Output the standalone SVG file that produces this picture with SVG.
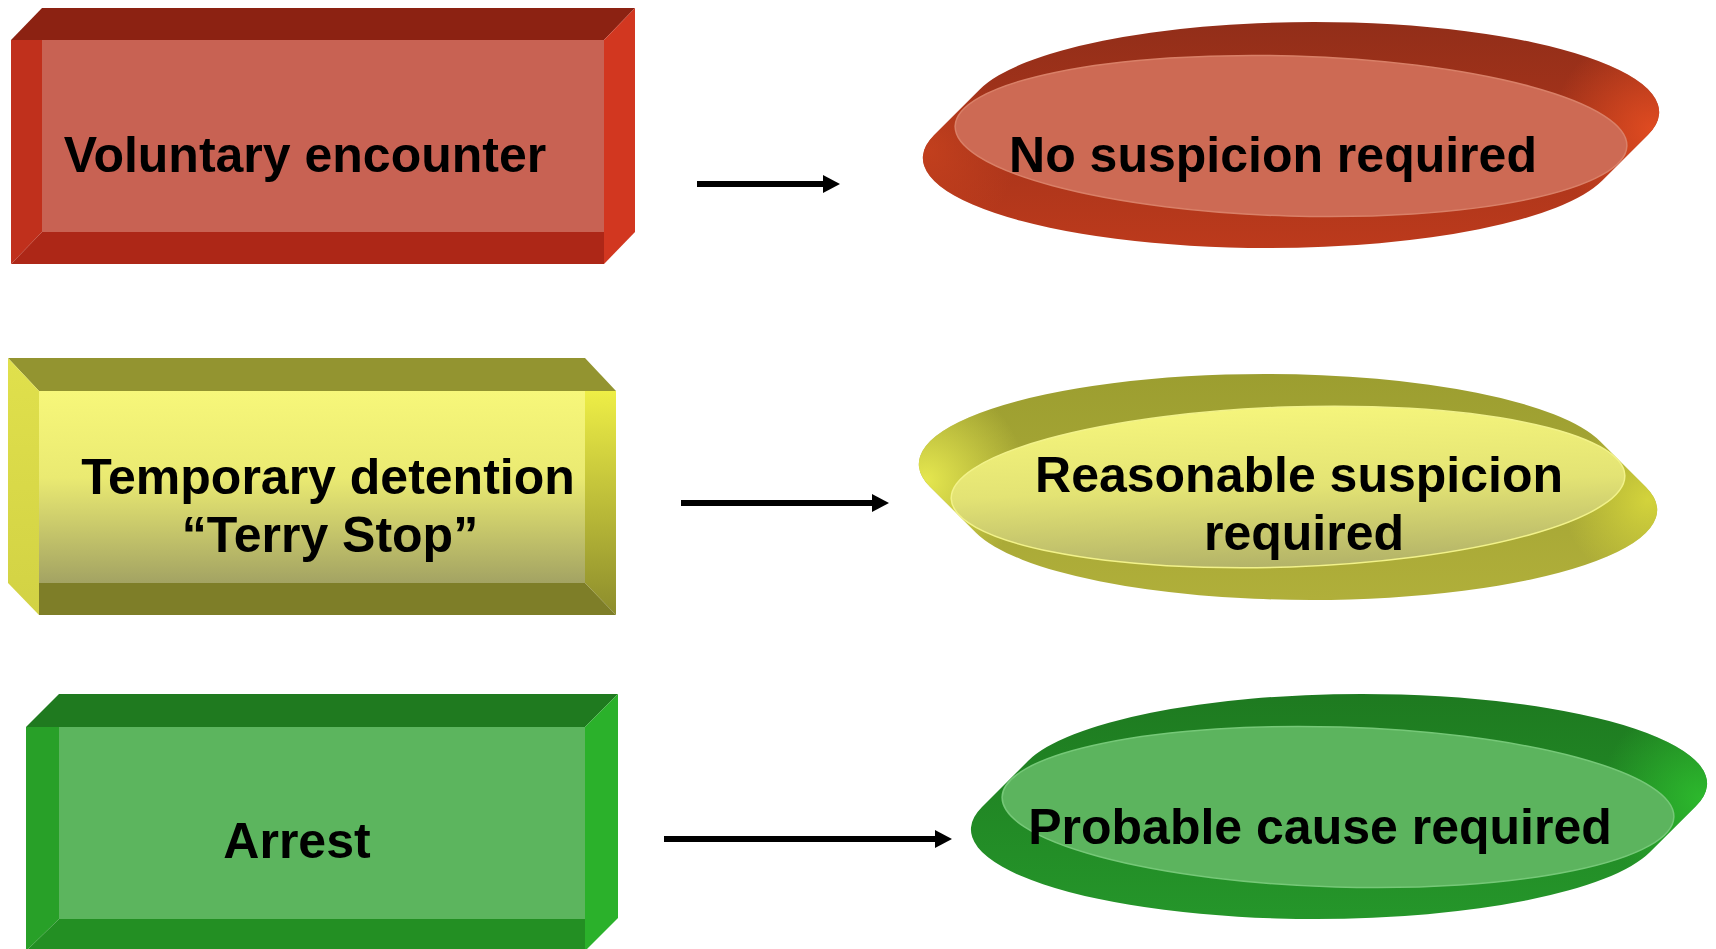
<svg xmlns="http://www.w3.org/2000/svg" width="1716" height="949" viewBox="0 0 1716 949">
  <style>
    .label { font-family: "Liberation Sans", Arial, sans-serif; font-weight: bold; font-size: 50px; fill: #000; text-anchor: middle; }
    .arrow { stroke: #000; stroke-width: 6; fill: none; marker-end: url(#head); }
  </style>
  <defs>
    <marker id="head" markerUnits="userSpaceOnUse" markerWidth="18" markerHeight="18" refX="5" refY="9" orient="auto">
      <path d="M0,0 L17,9 L0,18 Z" fill="#000"/>
    </marker>

    <!-- outlines of the extruded discs (face ellipse swept along the depth) -->
    <path id="rimRed" d="M934,135.3 L980,89.3 A345,90 0 0 1 1314,22 A345,90 0 0 1 1648,134.7 L1602,180.7 A345,90 0 0 1 1268,248 A345,90 0 0 1 934,135.3 Z"/>
    <path id="rimYel" d="M930,486.7 A346,90 0 0 1 1265,374 A346,90 0 0 1 1600,441.3 L1646,487.3 A346,90 0 0 1 1311,600 A346,90 0 0 1 976,532.7 Z"/>
    <path id="rimGrn" d="M982,807 L1028,761 A345,89.5 0 0 1 1362,694 A345,89.5 0 0 1 1696,806 L1650,852 A345,89.5 0 0 1 1316,919 A345,89.5 0 0 1 982,807 Z"/>

    <!-- box shading -->
    <linearGradient id="yelInner" x1="0" y1="0" x2="0" y2="1">
      <stop offset="0" stop-color="#F7F77A"/>
      <stop offset="0.45" stop-color="#EAEA72"/>
      <stop offset="1" stop-color="#A3A363"/>
    </linearGradient>
    <linearGradient id="yelRight" x1="0" y1="0" x2="0" y2="1">
      <stop offset="0" stop-color="#EEEE46"/>
      <stop offset="1" stop-color="#8C8C2C"/>
    </linearGradient>
    <linearGradient id="yelLeft" x1="0" y1="0" x2="0" y2="1">
      <stop offset="0" stop-color="#E0E04C"/>
      <stop offset="1" stop-color="#D2D244"/>
    </linearGradient>

    <!-- disc rims -->
    <linearGradient id="redRim" x1="0" y1="0" x2="0" y2="1">
      <stop offset="0" stop-color="#922E19"/>
      <stop offset="1" stop-color="#BC3A1C"/>
    </linearGradient>
    <radialGradient id="redGlowR" gradientUnits="userSpaceOnUse" cx="1652" cy="130" r="100">
      <stop offset="0" stop-color="#E24C21" stop-opacity="0.95"/>
      <stop offset="1" stop-color="#E24C21" stop-opacity="0"/>
    </radialGradient>
    <radialGradient id="redGlowL" gradientUnits="userSpaceOnUse" cx="928" cy="150" r="90">
      <stop offset="0" stop-color="#C8421E" stop-opacity="0.8"/>
      <stop offset="1" stop-color="#C8421E" stop-opacity="0"/>
    </radialGradient>
    <linearGradient id="yelRim" x1="0" y1="0" x2="0" y2="1">
      <stop offset="0" stop-color="#9C9E30"/>
      <stop offset="1" stop-color="#B0AF3A"/>
    </linearGradient>
    <radialGradient id="yelGlowL" gradientUnits="userSpaceOnUse" cx="926" cy="480" r="100">
      <stop offset="0" stop-color="#E8EA50" stop-opacity="0.95"/>
      <stop offset="1" stop-color="#E8EA50" stop-opacity="0"/>
    </radialGradient>
    <radialGradient id="yelGlowR" gradientUnits="userSpaceOnUse" cx="1648" cy="500" r="85">
      <stop offset="0" stop-color="#D8D83C" stop-opacity="0.9"/>
      <stop offset="1" stop-color="#D8D83C" stop-opacity="0"/>
    </radialGradient>
    <linearGradient id="yelFace" x1="0" y1="0" x2="0" y2="1">
      <stop offset="0" stop-color="#F5F57C"/>
      <stop offset="0.5" stop-color="#E3E374"/>
      <stop offset="1" stop-color="#B3B368"/>
    </linearGradient>
    <linearGradient id="grnRim" x1="0" y1="0" x2="0" y2="1">
      <stop offset="0" stop-color="#1E7A20"/>
      <stop offset="1" stop-color="#25962A"/>
    </linearGradient>
    <radialGradient id="grnGlow" gradientUnits="userSpaceOnUse" cx="1700" cy="798" r="100">
      <stop offset="0" stop-color="#2DBA2D" stop-opacity="0.95"/>
      <stop offset="1" stop-color="#2DBA2D" stop-opacity="0"/>
    </radialGradient>
  </defs>

  <rect width="1716" height="949" fill="#FFFFFF"/>

  <!-- stage boxes -->
  <g id="box-voluntary">
    <polygon points="11,40 42,8 635,8 604,40" fill="#8C2212"/>
    <polygon points="604,40 635,8 635,232 604,264" fill="#D23720"/>
    <polygon points="11,40 42,40 42,232 11,264" fill="#C0301C"/>
    <polygon points="11,264 42,232 604,232 604,264" fill="#AD2717"/>
    <rect x="42" y="40" width="562" height="192" fill="#C86253"/>
    <text class="label" x="305" y="172">Voluntary encounter</text>
  </g>

  <g id="box-detention">
    <polygon points="8,358 585,358 616,391 39,391" fill="#939430"/>
    <polygon points="8,358 39,391 39,615 8,583" fill="url(#yelLeft)"/>
    <polygon points="585,391 616,391 616,615 585,583" fill="url(#yelRight)"/>
    <polygon points="39,583 585,583 616,615 39,615" fill="#7E7E28"/>
    <rect x="39" y="391" width="546" height="192" fill="url(#yelInner)"/>
    <text class="label" x="328" y="494">Temporary detention</text>
    <text class="label" x="330" y="552">“Terry Stop”</text>
  </g>

  <g id="box-arrest">
    <polygon points="26,727 59,694 618,694 585,727" fill="#1F7A1F"/>
    <polygon points="585,727 618,694 618,918 585,951" fill="#2BB12B"/>
    <polygon points="26,727 59,727 59,919 26,951" fill="#28A028"/>
    <polygon points="26,951 59,919 585,919 585,951" fill="#238F23"/>
    <rect x="59" y="727" width="526" height="192" fill="#5CB55E"/>
    <text class="label" x="297" y="858">Arrest</text>
  </g>

  <!-- requirement discs: extruded outline, then the lit face -->
  <g id="disc-none">
    <use href="#rimRed" fill="url(#redRim)"/>
    <use href="#rimRed" fill="url(#redGlowL)"/>
    <use href="#rimRed" fill="url(#redGlowR)"/>
    <ellipse cx="1291" cy="136" rx="336" ry="80" transform="rotate(1.7 1291 136)" fill="#CD6A54" stroke="#D98068" stroke-width="1.5"/>
    <text class="label" x="1273" y="172">No suspicion required</text>
  </g>

  <g id="disc-reasonable">
    <use href="#rimYel" fill="url(#yelRim)"/>
    <use href="#rimYel" fill="url(#yelGlowL)"/>
    <use href="#rimYel" fill="url(#yelGlowR)"/>
    <ellipse cx="1288" cy="487" rx="337" ry="80" transform="rotate(-2 1288 487)" fill="url(#yelFace)" stroke="#F2F28A" stroke-width="1.5"/>
    <text class="label" x="1299" y="492">Reasonable suspicion</text>
    <text class="label" x="1304" y="550">required</text>
  </g>

  <g id="disc-probable">
    <use href="#rimGrn" fill="url(#grnRim)"/>
    <use href="#rimGrn" fill="url(#grnGlow)"/>
    <ellipse cx="1338" cy="807" rx="336" ry="80" transform="rotate(1.7 1338 807)" fill="#5CB45E" stroke="#76C878" stroke-width="1.5"/>
    <text class="label" x="1320" y="844">Probable cause required</text>
  </g>

  <!-- connectors -->
  <g id="connectors">
    <line class="arrow" x1="697" y1="184" x2="828" y2="184"/>
    <line class="arrow" x1="681" y1="503" x2="877" y2="503"/>
    <line class="arrow" x1="664" y1="839" x2="940" y2="839"/>
  </g>
</svg>
